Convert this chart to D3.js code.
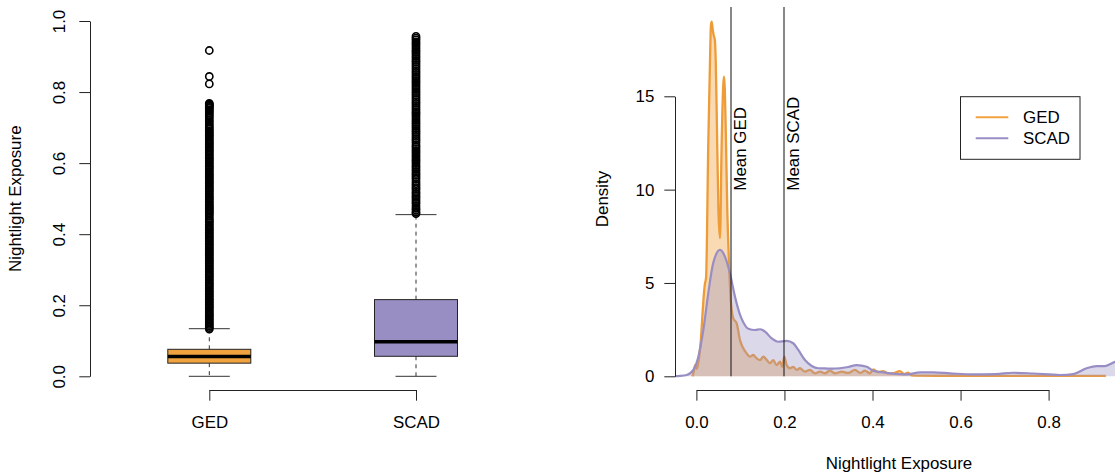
<!DOCTYPE html>
<html><head><meta charset="utf-8">
<script src="https://cdn.jsdelivr.net/npm/d3@7"></script>
<style>
body{margin:0;background:#fff}
svg{display:block}
text{font-family:"Liberation Sans",Arial,Helvetica,sans-serif;font-size:16.9px;fill:#000}
</style>
</head><body><svg id="c" width="1115" height="474"></svg>
<script>
// ---------- data ----------
const groups = ["GED", "SCAD"];
const groupColors = ["#f1a340", "#998ec3"];
const boxMin = [0, 0];
const boxQ1 = [0.037, 0.0563];
const boxMedian = [0.056, 0.0975];
const boxQ3 = [0.076, 0.2158];
const boxUpper = [0.134, 0.455];
const gedOutliers = [0.133,0.137,0.141,0.146,0.150,0.154,0.159,0.163,0.168,0.172,0.176,0.181,0.185,0.190,0.194,0.198,0.203,0.207,0.212,0.216,0.220,0.225,0.229,0.234,0.238,0.242,0.247,0.251,0.256,0.260,0.264,0.269,0.273,0.278,0.282,0.286,0.291,0.295,0.300,0.304,0.308,0.313,0.317,0.322,0.326,0.330,0.335,0.339,0.344,0.348,0.352,0.357,0.361,0.366,0.370,0.374,0.379,0.383,0.388,0.392,0.396,0.401,0.405,0.410,0.414,0.418,0.423,0.427,0.432,0.436,0.440,0.445,0.451,0.456,0.460,0.464,0.468,0.472,0.476,0.480,0.484,0.489,0.493,0.498,0.502,0.506,0.511,0.515,0.520,0.524,0.528,0.533,0.537,0.542,0.546,0.550,0.555,0.559,0.564,0.568,0.572,0.577,0.581,0.586,0.590,0.594,0.599,0.603,0.608,0.612,0.616,0.621,0.625,0.630,0.634,0.638,0.643,0.647,0.652,0.656,0.660,0.665,0.669,0.674,0.678,0.682,0.687,0.691,0.696,0.700,0.705,0.710,0.716,0.721,0.727,0.732,0.737,0.742,0.746,0.750,0.754,0.757,0.760,0.763,0.766,0.768,0.823,0.844,0.917];
const scadOutliers = [0.458,0.462,0.468,0.473,0.479,0.486,0.491,0.497,0.503,0.508,0.514,0.519,0.526,0.531,0.537,0.542,0.548,0.555,0.560,0.566,0.571,0.577,0.583,0.589,0.594,0.600,0.606,0.611,0.617,0.623,0.629,0.634,0.640,0.646,0.651,0.658,0.664,0.669,0.675,0.681,0.687,0.692,0.698,0.704,0.710,0.715,0.721,0.727,0.733,0.739,0.744,0.750,0.756,0.762,0.768,0.773,0.779,0.785,0.791,0.797,0.802,0.808,0.814,0.820,0.826,0.831,0.837,0.843,0.849,0.855,0.860,0.866,0.872,0.878,0.884,0.889,0.895,0.901,0.907,0.913,0.918,0.924,0.930,0.936,0.941,0.947,0.952,0.957];
const exposureTicksLeft = [0, 0.2, 0.4, 0.6, 0.8, 1.0];

const gedX = [-0.009,-0.006,-0.003,0.001,0.004,0.007,0.010,0.013,0.016,0.019,0.022,0.027,0.031,0.033,0.0347,0.037,0.039,0.042,0.044,0.046,0.050,0.0536,0.0574,0.061,0.0627,0.0645,0.0665,0.0702,0.0747,0.078,0.0838,0.0915,0.099,0.1065,0.114,0.1217,0.129,0.137,0.1445,0.152,0.160,0.167,0.1747,0.182,0.190,0.195,0.1996,0.205,0.2126,0.220,0.228,0.235,0.2466,0.258,0.269,0.281,0.292,0.303,0.315,0.330,0.345,0.36,0.372,0.383,0.394,0.402,0.413,0.424,0.435,0.448,0.462,0.472,0.481,0.489,0.50,0.55,0.60,0.65,0.70,0.75,0.80,0.85,0.90,0.93];
const gedDensity = [0,0.25,0.6,0.4,0.7,1.2,1.9,3.0,4.1,4.9,5.3,12.5,17.0,18.8,19.0,18.6,18.3,18.0,16.8,14.3,8.9,7.4,12.5,15.6,16.05,15.4,13.4,8.9,5.7,4.1,3.1,2.84,1.94,1.5,1.23,1.05,1.14,0.96,0.87,1.05,0.87,0.7,0.87,0.6,0.78,0.51,1.05,0.6,0.43,0.51,0.34,0.43,0.25,0.34,0.16,0.25,0.16,0.3,0.16,0.25,0.18,0.34,0.18,0.3,0.16,0.37,0.22,0.28,0.16,0.17,0.28,0.12,0.2,0.05,0.04,0.03,0.03,0.03,0.02,0.02,0.02,0.02,0.02,0.02];
const scadX = [-0.06,-0.037,-0.022,-0.007,0.0044,0.0157,0.027,0.038,0.0536,0.065,0.0763,0.0877,0.099,0.1065,0.118,0.133,0.1445,0.156,0.171,0.186,0.205,0.22,0.2315,0.2466,0.262,0.277,0.292,0.307,0.326,0.345,0.364,0.387,0.402,0.42,0.44,0.478,0.508,0.538,0.576,0.629,0.68,0.72,0.765,0.826,0.856,0.886,0.909,0.928,0.951,0.98,1.0];
const scadDensity = [0,0.02,0.07,0.34,1.05,2.48,4.45,6.05,6.77,6.4,5.5,4.26,3.3,2.9,2.55,2.48,2.52,2.39,2.03,1.85,1.9,1.77,1.41,0.87,0.55,0.43,0.42,0.41,0.43,0.5,0.6,0.51,0.3,0.22,0.16,0.1,0.21,0.21,0.16,0.1,0.12,0.19,0.15,0.07,0.12,0.43,0.55,0.55,0.78,0.9,0.95];
const meanValues = [0.0786, 0.199];
const meanLabels = ["Mean GED", "Mean SCAD"];
const densityTicks = [0, 5, 10, 15];
const exposureTicksRight = [0, 0.2, 0.4, 0.6, 0.8];

// ---------- drawing ----------
const svg = d3.select("#c");
svg.append("rect").attr("width",1115).attr("height",474).attr("fill","#fff");

function styleAxis(g){
  g.selectAll("path.domain").attr("stroke","#222").attr("stroke-width",1);
  g.selectAll(".tick line").attr("stroke","#222").attr("stroke-width",1);
  g.selectAll("text").attr("fill","#000");
  g.attr("font-size",null).attr("font-family",null);
}

// ===== Left: boxplot =====
const yL = d3.scaleLinear().domain([0,1]).range([376.3,21]);
const xL = d3.scalePoint().domain(groups).range([209.3,416]);
const boxHalf = 41.5, capHalf = 20.5;

const gyL = svg.append("g").attr("transform","translate(90,0)")
  .call(d3.axisLeft(yL).tickValues(exposureTicksLeft).tickFormat(d3.format(".1f")).tickSize(10.7).tickSizeOuter(0));
styleAxis(gyL);
gyL.selectAll(".tick text").attr("x",null).attr("dy",null)
  .attr("text-anchor","middle").attr("transform","translate(-25,0) rotate(-90)");

const gxL = svg.append("g").attr("transform","translate(0,390)")
  .call(d3.axisBottom(xL).tickSize(10.7).tickSizeOuter(0).tickPadding(15));
styleAxis(gxL);

svg.append("text").attr("transform","translate(21,198.7) rotate(-90)")
  .attr("text-anchor","middle").text("Nightlight Exposure");

const boxes = groups.map((g,i)=>({g, c:groupColors[i], min:boxMin[i], q1:boxQ1[i], med:boxMedian[i], q3:boxQ3[i], up:boxUpper[i],
  out: i===0 ? gedOutliers : scadOutliers}));

const bg = svg.selectAll("g.box").data(boxes).join("g").attr("class","box");
bg.append("line").attr("x1",d=>xL(d.g)).attr("x2",d=>xL(d.g))
  .attr("y1",d=>yL(d.q3)).attr("y2",d=>yL(d.up))
  .attr("stroke","#333").attr("stroke-dasharray","4,4");
bg.append("line").attr("x1",d=>xL(d.g)).attr("x2",d=>xL(d.g))
  .attr("y1",d=>yL(d.q1)).attr("y2",d=>yL(d.min))
  .attr("stroke","#333").attr("stroke-dasharray","4,4");
bg.append("line").attr("x1",d=>xL(d.g)-capHalf).attr("x2",d=>xL(d.g)+capHalf)
  .attr("y1",d=>yL(d.up)).attr("y2",d=>yL(d.up)).attr("stroke","#333");
bg.append("line").attr("x1",d=>xL(d.g)-capHalf).attr("x2",d=>xL(d.g)+capHalf)
  .attr("y1",d=>yL(d.min)).attr("y2",d=>yL(d.min)).attr("stroke","#333");
bg.append("rect").attr("x",d=>xL(d.g)-boxHalf).attr("width",boxHalf*2)
  .attr("y",d=>yL(d.q3)).attr("height",d=>yL(d.q1)-yL(d.q3))
  .attr("fill",d=>d.c).attr("stroke","#222").attr("stroke-width",1);
bg.append("line").attr("x1",d=>xL(d.g)-boxHalf).attr("x2",d=>xL(d.g)+boxHalf)
  .attr("y1",d=>yL(d.med)).attr("y2",d=>yL(d.med)).attr("stroke","#000").attr("stroke-width",3.5);
bg.each(function(d){
  d3.select(this).selectAll("circle").data(d.out).join("circle")
    .attr("cx",xL(d.g)).attr("cy",v=>yL(v)).attr("r",3.6)
    .attr("fill","none").attr("stroke","#000").attr("stroke-width",1.6);
});

// ===== Right: densities =====
const xR = d3.scaleLinear().domain([0,0.8]).range([696.4,1048.6]);
const yR = d3.scaleLinear().domain([0,15]).range([376.3,96.3]);

svg.append("clipPath").attr("id","clipR").append("rect")
  .attr("x",675).attr("y",0).attr("width",440).attr("height",390);

const gedPts = gedX.map((x,i)=>({x, y:gedDensity[i]}));
const scadPts = scadX.map((x,i)=>({x, y:scadDensity[i]}));
const area = d3.area().x(d=>xR(d.x)).y0(yR(0)).y1(d=>yR(d.y)).curve(d3.curveMonotoneX);
const line = d3.line().x(d=>xR(d.x)).y(d=>yR(d.y)).curve(d3.curveMonotoneX);

const plotR = svg.append("g").attr("clip-path","url(#clipR)");
plotR.append("path").datum(gedPts).attr("d",area).attr("fill",groupColors[0]).attr("fill-opacity",0.4);
plotR.append("path").datum(gedPts).attr("d",line).attr("fill","none").attr("stroke","#ee9c38").attr("stroke-width",2.3).attr("stroke-linejoin","round");
plotR.append("path").datum(scadPts).attr("d",area).attr("fill",groupColors[1]).attr("fill-opacity",0.35);
plotR.append("path").datum(scadPts).attr("d",line).attr("fill","none").attr("stroke",groupColors[1]).attr("stroke-width",2.2);

svg.selectAll("line.mean").data(meanValues).join("line").attr("class","mean")
  .attr("x1",d=>xR(d)).attr("x2",d=>xR(d)).attr("y1",7).attr("y2",yR(0))
  .attr("stroke","#111").attr("stroke-width",1);
svg.selectAll("text.mean").data(meanValues).join("text").attr("class","mean")
  .attr("transform",d=>`translate(${xR(d)+15},${yR(10)+1}) rotate(-90)`)
  .attr("text-anchor","start").text((d,i)=>meanLabels[i]);

const gyR = svg.append("g").attr("transform","translate(675,0)")
  .call(d3.axisLeft(yR).tickValues(densityTicks).tickSize(10.7).tickSizeOuter(0).tickPadding(10));
styleAxis(gyR);
const gxR = svg.append("g").attr("transform","translate(0,390)")
  .call(d3.axisBottom(xR).tickValues(exposureTicksRight).tickFormat(d3.format(".1f")).tickSize(10.7).tickSizeOuter(0).tickPadding(15));
styleAxis(gxR);

svg.append("text").attr("transform","translate(608.4,199) rotate(-90)")
  .attr("text-anchor","middle").text("Density");
svg.append("text").attr("x",899).attr("y",469).attr("text-anchor","middle").text("Nightlight Exposure");

const lg = svg.append("g");
lg.append("rect").attr("x",960.5).attr("y",96.7).attr("width",119.5).attr("height",62.6)
  .attr("fill","#fff").attr("stroke","#222").attr("stroke-width",1);
lg.selectAll("line.leg").data(groups).join("line").attr("class","leg")
  .attr("x1",975.7).attr("x2",1008.3)
  .attr("y1",(d,i)=>117.3+i*21).attr("y2",(d,i)=>117.3+i*21)
  .attr("stroke",(d,i)=>groupColors[i]).attr("stroke-width",2);
lg.selectAll("text.leg").data(groups).join("text").attr("class","leg")
  .attr("x",1023).attr("y",(d,i)=>117.3+i*21).attr("dy","0.35em").text(d=>d);
</script>
</body></html>
